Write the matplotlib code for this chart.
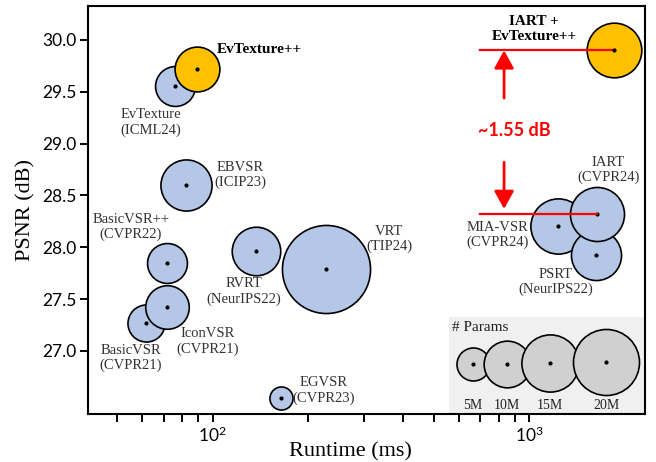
import matplotlib
matplotlib.use('Agg')
import matplotlib.pyplot as plt
from matplotlib.patches import Rectangle

plt.rcParams['font.family'] = 'Liberation Serif'
plt.rcParams['mathtext.fontset'] = 'custom'
plt.rcParams['mathtext.rm'] = 'Lato'
plt.rcParams['mathtext.it'] = 'Lato:italic'

# previous methods
names = ['BasicVSR\n(CVPR21)', 'IconVSR\n(CVPR21)', 'BasicVSR++\n(CVPR22)',
         'EBVSR\n(ICIP23)', 'EvTexture\n(ICML24)', 'RVRT\n(NeurIPS22)',
         'VRT\n(TIP24)', 'EGVSR\n(CVPR23)', 'MIA-VSR\n(CVPR24)',
         'PSRT\n(NeurIPS22)', 'IART\n(CVPR24)']
runtime = [61.5, 71.9, 71.6, 82.4, 76.2, 137, 228, 164.3, 1235, 1621, 1640]
psnr = [27.27, 27.42, 27.85, 28.60, 29.56, 27.96, 27.79, 26.55, 28.21, 27.93, 28.32]
params = [6.3, 8.7, 7.3, 12.0, 7.3, 10.8, 35.6, 2.45, 14.0, 11.5, 13.4]

# ours
ours_names = ['EvTexture++', 'IART +\nEvTexture++']
ours_runtime = [89.4, 1851]
ours_psnr = [29.72, 29.90]
ours_params = [9.2, 13.7]

legend_params = [5, 10, 15, 20]
legend_labels = ['5M', '10M', '15M', '20M']

gain_text = '~1.55 dB'

# label offsets in points from the bubble centre
offsets = [(-10.8, -25.2), (28.8, -24.5), (-25.9, 25.9), (38.9, 7.2),
           (-17.3, -26.6), (-8.6, -28.8), (45.4, 21.6), (31, 5),
           (-43.9, -6.9), (-28.8, -19.7), (7.7, 31.7)]
ours_offsets = [(14.4, 14.4), (-57.6, 15.6)]
ours_ha = ['left', 'center']

SCALE = 113  # marker area (pt^2) per million params
BLUE = '#b4c7e7'
GOLD = '#ffc000'

fig = plt.figure(figsize=(6.56, 4.62), dpi=100)
ax = fig.add_axes([88/656, 1-414/462, 557/656, 408/462])
ax.set_xscale('log')
ax.set_xlim(40.4, 2318)
ax.set_ylim(26.392, 30.328)

for i in range(len(names)):
    ax.scatter(runtime[i], psnr[i], s=SCALE*params[i], c=BLUE,
               edgecolors='black', linewidths=1.2, zorder=3)
    ax.scatter(runtime[i], psnr[i], s=4, c='black', zorder=4)
    ax.annotate(names[i], (runtime[i], psnr[i]), xytext=offsets[i],
                textcoords='offset points', ha='center', va='center',
                fontsize=10.5, color='#333333', zorder=6)

for i in range(len(ours_names)):
    ax.scatter(ours_runtime[i], ours_psnr[i], s=SCALE*ours_params[i], c=GOLD,
               edgecolors='black', linewidths=1.2, zorder=3)
    ax.scatter(ours_runtime[i], ours_psnr[i], s=4, c='black', zorder=5)
    ax.annotate(ours_names[i], (ours_runtime[i], ours_psnr[i]),
                xytext=ours_offsets[i], textcoords='offset points',
                ha=ours_ha[i], va='center', fontsize=11, fontweight='bold',
                color='black', multialignment='center', zorder=6)

# gain annotation
iart = names.index('IART\n(CVPR24)')
ax.plot([700, ours_runtime[1]], [ours_psnr[1]] * 2, color='red', lw=1.6, zorder=4)
ax.plot([700, runtime[iart]], [psnr[iart]] * 2, color='red', lw=1.6, zorder=4)
arrow = dict(arrowstyle='-|>,head_length=0.6,head_width=0.33', color='red',
             lw=2, shrinkA=0, shrinkB=0, mutation_scale=18)
ax.annotate('', xy=(832, ours_psnr[1]), xytext=(832, 29.44), arrowprops=arrow)
ax.annotate('', xy=(832, 28.37), xytext=(832, 28.82), arrowprops=arrow)
ax.text(895, 29.13, gain_text, color='red', fontsize=13, fontweight='bold',
        family='Lato', ha='center', va='center')

# size legend
ax.add_patch(Rectangle((0.6487, 0), 0.36, 0.237, transform=ax.transAxes,
                       facecolor='#f0f0f0', edgecolor='none', zorder=1))
ax.text(0.6537, 0.213, '# Params', transform=ax.transAxes, fontsize=11,
        ha='left', va='center', color='#222222', zorder=2)
leg_x = [0.6907, 0.7517, 0.8294, 0.9300]
leg_y = [0.1225, 0.1225, 0.125, 0.1275]
for i in range(len(legend_params)):
    ax.scatter(leg_x[i], leg_y[i], s=SCALE*legend_params[i], c='#d0d0d0',
               edgecolors='black', linewidths=1.2, transform=ax.transAxes,
               zorder=3, clip_on=False)
    ax.scatter(leg_x[i], leg_y[i], s=4, c='black', transform=ax.transAxes, zorder=4)
    ax.text(leg_x[i], 0.021, legend_labels[i], transform=ax.transAxes,
            fontsize=10, ha='center', va='center', color='#222222', zorder=4)

# axes styling
for sp in ax.spines.values():
    sp.set_linewidth(1.5)
ax.set_yticks([27.0, 27.5, 28.0, 28.5, 29.0, 29.5, 30.0])
ax.set_yticklabels(['%.1f' % v for v in [27.0, 27.5, 28.0, 28.5, 29.0, 29.5, 30.0]])
ax.set_xticks([100, 1000])
ax.set_xticklabels([r'$10^2$', r'$10^3$'])
ax.set_xticks([50, 60, 70, 80, 90, 200, 300, 400, 500, 600, 700, 800, 900], minor=True)
ax.tick_params(which='both', direction='out', length=5.5, width=1.4)
ax.tick_params(axis='both', labelsize=12.5, pad=3)
for lbl in ax.get_yticklabels() + ax.get_xticklabels():
    lbl.set_fontfamily('Lato')

ax.set_xlabel('Runtime (ms)', fontsize=16)
ax.xaxis.set_label_coords(0.471, -0.07)
ax.set_ylabel('PSNR (dB)', fontsize=16)
ax.yaxis.set_label_coords(-0.095, 0.5)

fig.savefig('out.png', dpi=100)
